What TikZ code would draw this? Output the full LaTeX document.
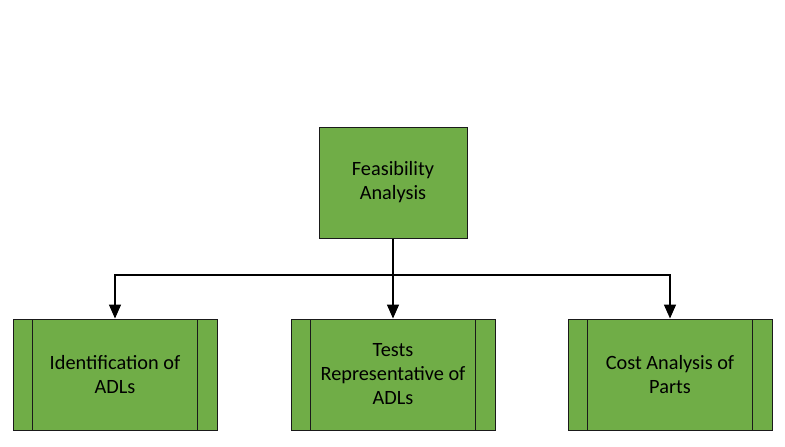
\documentclass[tikz,border=0pt]{standalone}
\usepackage{fontspec}
\setmainfont{Carlito}
\usetikzlibrary{arrows.meta}
\definecolor{boxgreen}{HTML}{70AD47}
\definecolor{boxline}{HTML}{1A1A1A}

\begin{document}
\begin{tikzpicture}[x=1pt,y=-1pt,
    topbox/.style={rectangle,draw=boxline,line width=1pt,fill=boxgreen,
      minimum width=148pt,minimum height=111pt,align=center,
      font=\fontsize{20.3pt}{24pt}\selectfont},
    procbox/.style={rectangle,draw=boxline,line width=1pt,fill=boxgreen,
      minimum width=204pt,minimum height=111pt,align=center,
      font=\fontsize{20.3pt}{24pt}\selectfont,
      path picture={
        \draw[boxline,line width=1pt]
          ([xshift=19.5pt]path picture bounding box.north west) --
          ([xshift=19.5pt]path picture bounding box.south west);
        \draw[boxline,line width=1pt]
          ([xshift=-19.5pt]path picture bounding box.north east) --
          ([xshift=-19.5pt]path picture bounding box.south east);}},
    conn/.style={line width=1.5pt,black},
    arr/.style={conn,-{Triangle[length=14pt,width=12pt]}}]

  \useasboundingbox (0,0) rectangle (785,447);

  % --- top ---
  \node[topbox] (feas) at (393,182.5) {Feasibility\\Analysis};

  % --- bottom row ---
  \node[procbox] (adl)  at (115,374.5) {Identification of\\ADLs};
  \node[procbox] (test) at (393,374.5) {Tests\\Representative of\\ADLs};
  \node[procbox] (cost) at (670,374.5) {Cost Analysis of\\Parts};

  % --- connectors ---
  \coordinate (split) at (feas.south |- 0,275);
  \draw[conn] (feas.south) -- (split);
  \draw[arr] (split) -| (adl.north);
  \draw[arr] (split) -| (cost.north);
  \draw[arr] (feas.south) -- (test.north);

\end{tikzpicture}
\end{document}
